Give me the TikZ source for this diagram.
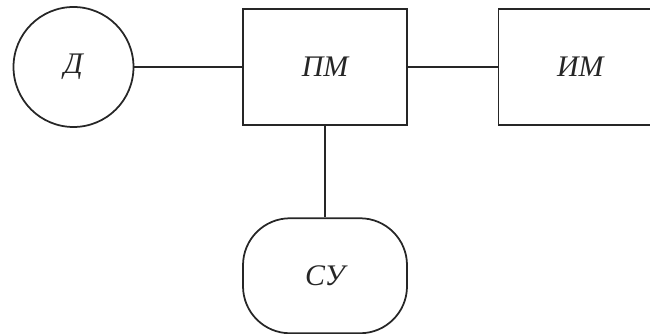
\documentclass[tikz,border=0pt]{standalone}
\usepackage{fontspec}
\setmainfont{Liberation Serif}
\usetikzlibrary{positioning}

\begin{document}
\begin{tikzpicture}[node distance=1.8cm and 2.16cm, font=\itshape\fontsize{17}{20}\selectfont, line width=1pt, color=black!85]
            \useasboundingbox (0,0) rectangle (13,-6.68);
            \clip (0,0) rectangle (13,-6.68);
            % --- Nodes Placement ---
            \node[circle, draw, minimum size=2.4cm] (D) at (1.47,-1.34) {Д};
            \node[rectangle, draw, minimum width=3.27cm, minimum height=2.32cm] (PM) [right=2.16cm of D] {ПМ};
            \node[rectangle, draw, minimum width=3.27cm, minimum height=2.32cm] (IM) [right=1.8cm of PM] {ИМ};
            \node[rectangle, rounded corners=0.94cm, draw, minimum width=3.28cm, minimum height=2.3cm] (SU) [below=1.83cm of PM] {СУ};

            % --- Connections ---
            \draw (D) -- (PM);
            \draw (PM) -- (IM);
            \draw (PM) -- (SU);
        \end{tikzpicture}
\end{document}
